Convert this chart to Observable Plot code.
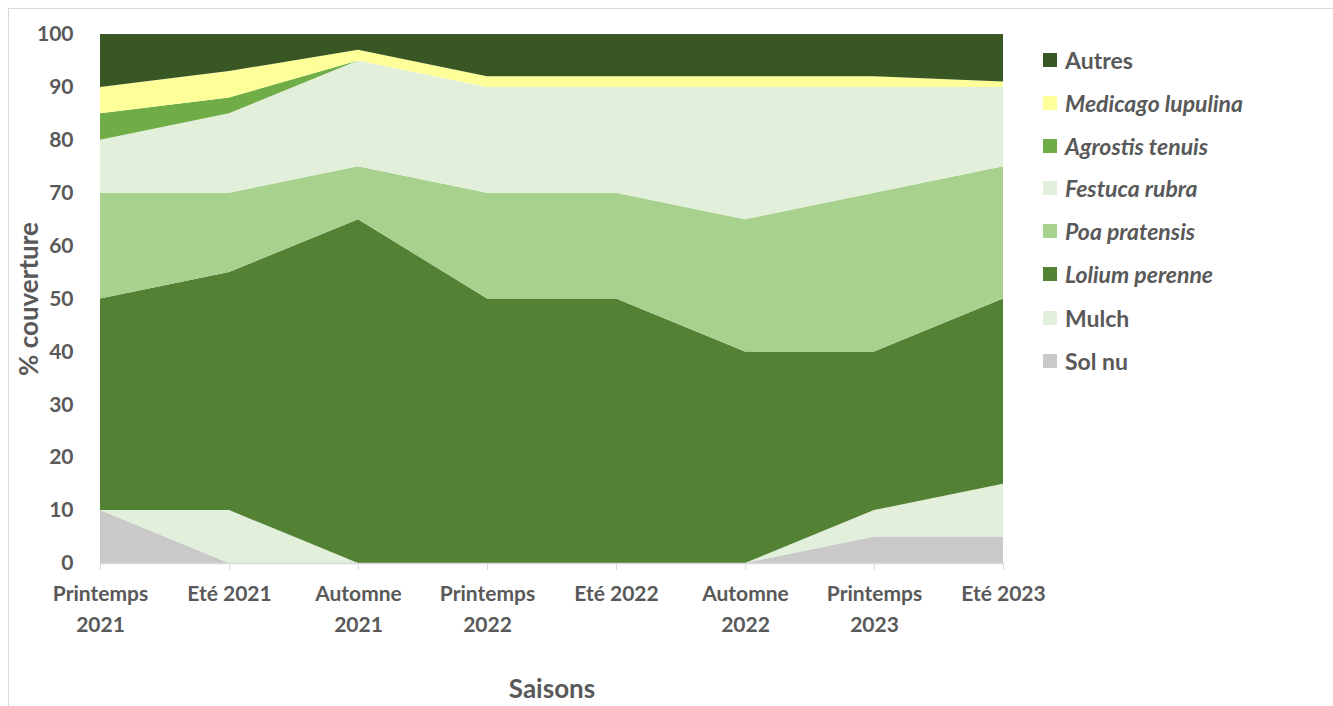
<!DOCTYPE html>
<html>
<head>
<meta charset="utf-8">
<script src="https://cdn.jsdelivr.net/npm/d3@7"></script>
<script src="https://cdn.jsdelivr.net/npm/@observablehq/plot@0.6"></script>
<style>
  html, body { margin: 0; padding: 0; background: #fff; }
  #wrap { position: relative; width: 1333px; height: 706px; overflow: hidden; font-family: Lato, "Open Sans", sans-serif; }
  #frame { position: absolute; left: 8px; top: 8px; width: 1400px; height: 800px; border: 1px solid #d9d9d9; box-sizing: border-box; }
  #legend { position: absolute; left: 1043px; top: 0; }
  .item { position: absolute; left: 0; white-space: nowrap; font-size: 23px; font-weight: 700; color: #595959; display: flex; align-items: center; height: 30px; }
  .sw { width: 14px; height: 14px; margin-right: 8px; }
  svg { position: absolute; left: 0; top: 0; }
</style>
</head>
<body>
<div id="wrap"><div id="frame"></div><div id="legend"></div></div>
<script>
const seasons = ["Printemps 2021", "Eté 2021", "Automne 2021", "Printemps 2022", "Eté 2022", "Automne 2022", "Printemps 2023", "Eté 2023"];
const seasonLabels = ["Printemps\n2021", "Eté 2021", "Automne\n2021", "Printemps\n2022", "Eté 2022", "Automne\n2022", "Printemps\n2023", "Eté 2023"];

// Stack order: bottom to top
const species = ["Sol nu", "Mulch", "Lolium perenne", "Poa pratensis", "Festuca rubra", "Agrostis tenuis", "Medicago lupulina", "Autres"];
const italicSpecies = ["Lolium perenne", "Poa pratensis", "Festuca rubra", "Agrostis tenuis", "Medicago lupulina"];
const colors = ["#c9c9c9", "#e2efda", "#548235", "#a9d18e", "#e2efda", "#70ad47", "#ffff99", "#385723"];

const solNu    = [10, 0, 0, 0, 0, 0, 5, 5];
const mulch    = [0, 10, 0, 0, 0, 0, 5, 10];
const lolium   = [40, 45, 65, 50, 50, 40, 30, 35];
const poa      = [20, 15, 10, 20, 20, 25, 30, 25];
const festuca  = [10, 15, 20, 20, 20, 25, 20, 15];
const agrostis = [5, 3, 0, 0, 0, 0, 0, 0];
const medicago = [5, 5, 2, 2, 2, 2, 2, 1];
const autres   = [10, 7, 3, 8, 8, 8, 8, 9];

const yTicks = [0, 10, 20, 30, 40, 50, 60, 70, 80, 90, 100];

const seriesValues = [solNu, mulch, lolium, poa, festuca, agrostis, medicago, autres];
const data = [];
species.forEach((sp, i) => {
  seasons.forEach((s, j) => data.push({season: s, species: sp, value: seriesValues[i][j]}));
});

const textColor = "#595959";

const chart = Plot.plot({
  width: 1333,
  height: 706,
  marginLeft: 100,
  marginRight: 330,
  marginTop: 34,
  marginBottom: 143,
  style: {fontFamily: "Lato, 'Open Sans', sans-serif", color: textColor, background: "transparent"},
  x: {type: "point", domain: seasons, padding: 0},
  y: {domain: [0, 100]},
  color: {domain: species, range: colors},
  marks: [
    Plot.areaY(data, {x: "season", y: "value", fill: "species", order: species}),
    Plot.ruleY([0], {stroke: "#d9d9d9", strokeWidth: 1.5}),
    Plot.axisY({
      ticks: yTicks, tickSize: 0, tickPadding: 27, fontSize: 21, fontWeight: 700, fill: textColor,
      label: "% couverture", labelAnchor: "center", labelArrow: "none", labelOffset: 81
    }),
    Plot.axisX({
      tickSize: 7, stroke: "#d9d9d9", tickPadding: 9, fontSize: 21, fontWeight: 700, fill: textColor,
      lineHeight: 1.45,
      tickFormat: (d) => seasonLabels[seasons.indexOf(d)],
      label: "Saisons", labelAnchor: "center", labelArrow: "none", labelOffset: 134
    })
  ]
});

document.getElementById("wrap").appendChild(chart);

// Style axis titles
chart.querySelectorAll("text").forEach(t => {
  const s = t.textContent.trim();
  if (s === "% couverture" || s === "Saisons") {
    t.setAttribute("font-size", "26");
    t.setAttribute("font-weight", "700");
    t.setAttribute("fill", textColor);
    t.style.fontSize = "26px";
    t.style.fontWeight = "700";
    t.style.fill = textColor;
  }
});

// Legend (top to bottom: reverse of stack)
const legend = document.getElementById("legend");
const legendTops = [60, 103, 146, 188, 231, 274, 318, 361];
species.slice().reverse().forEach((sp, k) => {
  const i = species.indexOf(sp);
  const div = document.createElement("div");
  div.className = "item";
  div.style.top = (legendTops[k] - 15) + "px";
  const sw = document.createElement("div");
  sw.className = "sw";
  sw.style.background = colors[i];
  const lab = document.createElement("span");
  lab.textContent = sp;
  if (italicSpecies.includes(sp)) lab.style.fontStyle = "italic";
  div.appendChild(sw);
  div.appendChild(lab);
  legend.appendChild(div);
});
</script>
</body>
</html>
